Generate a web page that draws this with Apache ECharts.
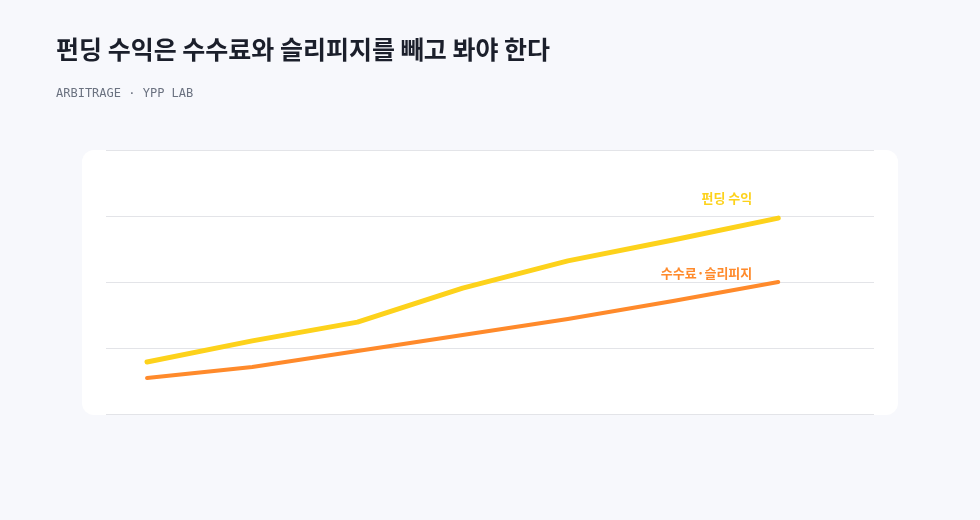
<!DOCTYPE html>
<html>
<head>
<meta charset="utf-8">
<script src="https://cdn.jsdelivr.net/npm/echarts@6/dist/echarts.min.js"></script>
<style>
  html, body { margin: 0; padding: 0; background: #f7f8fc; }
  #chart { width: 980px; height: 520px; }
</style>
</head>
<body>
<div id="chart"></div>
<script>
// 데이터
const periods = [0, 1, 2, 3, 4, 5, 6];
const funding = [19.7, 27.7, 34.8, 47.7, 58.0, 65.9, 74.2];
const costs = [13.6, 17.8, 23.9, 29.9, 36.0, 42.8, 50.0];
const seriesNames = ["펀딩 수익", "수수료·슬리피지"];

const chart = echarts.init(document.getElementById("chart"));

const pairs = values => values.map((v, i) => [periods[i], v]);

function endLabel(name, color, offset) {
  return {
    show: true,
    formatter: name,
    color: color,
    fontFamily: "Noto Sans CJK KR",
    fontSize: 13,
    fontWeight: "bold",
    distance: 0,
    align: "right",
    verticalAlign: "middle",
    offset: offset
  };
}

chart.setOption({
  backgroundColor: "#f7f8fc",
  animation: false,
  title: [
    {
      text: "펀딩 수익은 수수료와 슬리피지를 빼고 봐야 한다",
      left: 51,
      top: 32,
      textStyle: {
        fontFamily: "Noto Sans CJK KR",
        fontSize: 25,
        fontWeight: "bold",
        color: "#1b1f2b"
      }
    },
    {
      text: "ARBITRAGE · YPP LAB",
      left: 51,
      top: 83,
      textStyle: {
        fontFamily: "DejaVu Sans Mono",
        fontSize: 12,
        fontWeight: "normal",
        color: "#6b7280"
      }
    }
  ],
  graphic: [
    {
      type: "rect",
      z: -10,
      shape: { x: 82, y: 150, width: 816, height: 265, r: 12 },
      style: { fill: "#ffffff" }
    }
  ],
  grid: { left: 106, right: 106, top: 150, bottom: 106 },
  xAxis: {
    type: "value",
    min: -0.39,
    max: 6.91,
    axisLine: { show: false },
    axisTick: { show: false },
    axisLabel: { show: false },
    splitLine: { show: false }
  },
  yAxis: {
    type: "value",
    min: 0,
    max: 100,
    interval: 25,
    axisLine: { show: false },
    axisTick: { show: false },
    axisLabel: { show: false },
    splitLine: { lineStyle: { color: "#e3e4e8", width: 1 } }
  },
  series: [
    {
      name: seriesNames[0],
      type: "line",
      data: pairs(funding),
      symbol: "none",
      lineStyle: { color: "#fdd21b", width: 5, cap: "round", join: "round" },
      endLabel: endLabel(seriesNames[0], "#fdd21b", [-26, -20])
    },
    {
      name: seriesNames[1],
      type: "line",
      data: pairs(costs),
      symbol: "none",
      lineStyle: { color: "#ff8a2b", width: 4, cap: "round", join: "round" },
      endLabel: endLabel(seriesNames[1], "#ff8a2b", [-26, -9])
    }
  ]
});
</script>
</body>
</html>
